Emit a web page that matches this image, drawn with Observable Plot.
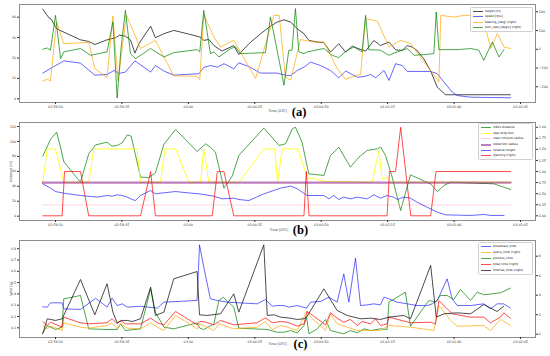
<!DOCTYPE html>
<html><head><meta charset="utf-8">
<script src="https://cdn.jsdelivr.net/npm/d3@7"></script>
<script src="https://cdn.jsdelivr.net/npm/@observablehq/plot@0.6"></script>
<style>
body{margin:0;background:#fff;}
#wrap{position:relative;width:550px;height:356px;overflow:hidden;font-family:"DejaVu Sans",sans-serif;background:#fff;}
.legend{position:absolute;box-sizing:border-box;background:rgba(255,255,255,0.85);border:0.6px solid #d0d0d0;border-radius:1.5px;}
.row{display:flex;align-items:center;white-space:nowrap;}
.sw{display:inline-block;width:10px;height:0;margin-left:2px;margin-right:2px;}
.lbl{font-size:3px;line-height:1;color:#111;}
</style></head><body><div id="wrap"></div>
<script>
// ---------- x axis (seconds after 02:59:10 UTC) ----------
const xTicks = [0,25,50,75,100,125,150,175];
const xTickLabels = ["02:59:10","02:59:35","03:00","03:00:25","03:00:50","03:01:15","03:01:40","03:02:05"];

// ---------- panel (a) ----------
const heightM = [[-4.8,44],[-2.5,39.7],[-1.6,39],[0.4,34.3],[9.4,28.9],[12.5,28.1],[14.8,26.6],[19.4,28.9],[22.6,29.9],[24.1,31.2],[26.3,30.7],[28.2,28.9],[29.9,22.4],[31.4,27],[35.8,35.6],[37.6,29.9],[40.8,31.9],[44.5,33.5],[49.6,31.9],[54.6,30.2],[55.8,28.6],[57.7,29.1],[59.6,26.1],[62.7,23.4],[67.1,26.1],[69,21.7],[72.8,27],[77.2,31.9],[80.9,35.5],[83.4,37.6],[86,38.7],[88.5,37.6],[91,34.3],[93.5,31.9],[95.4,28.6],[98.5,27.8],[101,27.5],[103.5,22.9],[106.6,27],[109.2,22.9],[111.7,25.8],[114.2,24.5],[116.7,23.4],[119.8,28.6],[122.3,26.1],[125.5,27.8],[128,24],[130.5,23.7],[132.4,26.1],[134.3,25.3],[136.1,23.7],[138.6,19.6],[141.1,13.9],[143.7,5.7],[146.8,2],[171.2,2]];
const speedMS = [[-4.8,12.6],[3.1,18.6],[9.4,17.5],[14.8,11.6],[19.4,11.9],[22,13.9],[23.8,12.4],[26.3,13.1],[29.9,18.6],[35.8,13.1],[37.6,16.3],[40.8,13.6],[44.5,11.6],[54,12.3],[55.8,15.4],[58.3,16.3],[60.9,15.5],[63.4,17.2],[67.1,14.7],[69,17.6],[72.8,15.8],[77.2,12.6],[83.4,12.6],[87.2,11.4],[88.5,11.4],[91,13.9],[93.5,15.5],[96,18],[99.7,16.3],[103.5,13.9],[106.6,10.3],[109.2,13.6],[111.7,11.9],[113.6,10.6],[116.1,10.9],[118.6,11.9],[120.5,10.3],[123.6,13.9],[125.5,9],[128,17.2],[130.5,16.3],[132.4,13.4],[141.1,13.4],[143.7,12.3],[146.2,8.2],[149.3,3.3],[151.2,1.6],[156.3,0.8],[171.3,0.5]];
const bearingDeg = [[-4.8,-169],[-3.1,-160],[-1.9,-169],[0.4,146],[3.1,30],[12.5,37],[14.8,-103],[19.4,-151],[21.6,178],[23.5,-169],[26.7,181],[32,4],[37.6,48],[44.5,-142],[53.3,-144],[54.3,-162],[55.8,185],[59.6,66],[62.1,12],[67.1,48],[75.3,-156],[82.2,181],[84.2,181],[86.5,-148],[88.5,-165],[92.2,52],[97.2,39],[101,39],[106,-103],[109.2,-160],[114.8,-133],[116.7,164],[121.1,151],[125.5,12],[129.9,48],[133.7,30],[138.7,-68],[144.3,-174],[145,181],[150,172],[153.8,181],[160.7,181],[163.8,4],[166.3,84],[168.8,12],[171.3,4]];
const turnRate = [[-4.8,0],[-3.1,7],[-1.9,-5],[0,181],[1.9,-50],[3.1,-14],[9.4,4],[13.2,-32],[19.4,-14],[21.6,146],[23.2,-260],[24.7,12],[26.3,208],[28.2,-23],[30.1,-50],[35.8,4],[40.8,-41],[44.5,-18],[53.3,-2],[54.3,-14],[55.8,208],[58.3,-23],[59.6,-14],[61.5,-41],[65.9,4],[67.8,12],[69.6,-23],[79,-18],[80.9,172],[82.5,60],[86,-192],[87.8,-5],[89,-5],[90.3,217],[91.6,-14],[93.5,-23],[94.7,-14],[101,4],[104.1,-32],[106.6,-44],[109.8,-5],[112.3,12],[115.4,-14],[116.7,181],[117.9,-2],[122.3,-5],[125.5,-32],[128.6,-14],[132.4,4],[134.9,-32],[139.9,-27],[142.4,-23],[143.3,199],[144.3,-2],[151.2,-2],[156.3,4],[159.3,-5],[161.2,-59],[164.4,39],[166.9,-41],[168.8,-2]];
const aLeftTicks = [0,10,20,30,40];
const aRightTicks = [-200,-100,0,100,200];

// ---------- panel (b) ----------
const uavDistance = [[-4.8,80.3],[-1.9,102.6],[0.4,112.4],[1.9,92.3],[3.1,73.1],[9.4,45.5],[12.5,83.4],[15.1,95.4],[19.4,99],[21.3,93.7],[23.2,94.6],[25.1,98.1],[27,108.8],[28.5,107],[32,52.2],[35.1,51.8],[37.6,58],[40.8,96.3],[45.2,116],[53.3,86.5],[56.5,96.8],[58.3,92.3],[60.2,85.6],[63.4,37.5],[66.5,53.6],[69,81.2],[78.4,117.8],[80.9,108],[84.1,94.6],[86.6,96.8],[89.1,116.8],[90.3,119.1],[92.8,99],[95.3,56.7],[101,54.5],[103.5,81.2],[106.6,92.4],[111,65.6],[114.2,79],[117.3,87.9],[121.2,90.2],[122.4,92.4],[124.2,81.2],[126.7,52.2],[129.9,7.6],[133.6,55.3],[141.2,43.2],[143.7,33],[146.2,41],[148.7,45.5],[165,43.3],[171.3,35.7]];
const tearDropDist = [[-4.8,45.5],[-3.1,90],[0,90],[3.1,45.5],[12.5,45.5],[14.4,90],[30.7,90],[32,45.5],[39.5,45.5],[41.2,90],[45.2,90],[50.2,45.5],[54.6,45.5],[55.8,90],[57.7,45.5],[69,45.5],[78.4,90],[82.5,90],[83.6,45.5],[85.3,90],[91.2,90],[95,50],[96.6,51.2],[101,46.4],[119.2,45.5],[121.7,87.8],[122.9,50],[124.8,52.2],[126.1,45.5],[171.3,45.5]];
const nearCollision = [[-4.8,15],[171.3,15]];
const detectionRadius = [[-4.8,45],[171.3,45]];
const relativeHeight = [[-4.8,43.3],[-1.9,37.5],[0,33],[3.1,30.8],[9.4,27.7],[15.7,25.5],[19.4,27.7],[21.3,26.8],[23.2,28.6],[25.1,27.7],[27,25.5],[28.9,22.3],[30.1,21],[32,27.7],[35.8,34.4],[37.6,29.9],[40.8,31.3],[45.2,33],[49.6,31.3],[54,29.9],[56.5,28.6],[59.6,26.8],[62.7,23.2],[67.1,24.1],[69,22.3],[72.8,21],[78.4,29.9],[84.7,37.5],[88.5,40.2],[91,36.6],[94.7,27.7],[101,27.7],[102.9,23.2],[104.7,27.7],[106.6,22.3],[108.5,25.5],[111,23.2],[113.6,25.5],[117.3,23.2],[119.8,28.6],[122.3,24.1],[124.8,27.7],[127.3,25.5],[128.6,22.3],[131.1,25.5],[133.6,24.1],[136.1,18.7],[139.9,12],[143.7,5.4],[146.8,1.8],[156.2,1],[161.3,2.3],[163.8,1],[168.8,1]];
const warning = [[-4.8,0],[2.5,0],[3.4,1],[9.4,1],[12.5,0],[32,0],[35.8,1],[37.6,0],[59,0],[60.9,1],[63.4,1],[67.1,0],[93.5,0],[94.4,1],[95.4,0],[124.8,0],[125.7,1],[128,1],[129.9,2],[133.7,0],[141.2,0],[143.2,1],[171.3,1]];
const bLeftTicks = [0,20,40,60,80,100,120];
const bRightTicks = [0,0.25,0.5,0.75,1,1.25,1.5,1.75,2];

// ---------- panel (c) ----------
const broadcastTime = [[-4.8,0.285],[-3.1,0.283],[-1.9,0.321],[2.5,0.321],[3.1,0.268],[9.4,0.262],[15.1,0.362],[19.4,0.283],[21.3,0.362],[23.2,0.297],[25.1,0.312],[27,0.283],[32,0.291],[38.3,0.274],[40.8,0.327],[53.3,0.342],[54.2,0.834],[55.8,0.636],[58.3,0.356],[60.9,0.342],[64.6,0.327],[75.9,0.312],[79,0.35],[81.6,0.291],[83.4,0.297],[86,0.297],[87.8,0.283],[91,0.297],[94.5,0.274],[96,0.327],[99.7,0.333],[102.9,0.371],[106,0.327],[108.5,0.577],[110.4,0.327],[112.9,0.716],[114.8,0.297],[117.3,0.303],[119.8,0.312],[122.3,0.303],[123.6,0.371],[125.5,0.356],[128.6,0.327],[132.4,0.312],[136.1,0.297],[139.9,0.297],[141.8,0.312],[143.7,0.342],[147.4,0.533],[149.3,0.356],[151.2,0.297],[156.2,0.297],[161.2,0.312],[163.7,0.268],[166.2,0.312],[168.7,0.312],[171.2,0.274]];
const processTime = [[-4.8,0.055],[-3.1,0.12],[0,0.085],[2.5,0.106],[3.1,0.356],[9.4,0.386],[12.5,0.091],[19.4,0.085],[23.2,0.085],[24.5,0.135],[26.3,0.076],[32,0.091],[35.8,0.445],[37.6,0.238],[40.8,0.106],[44.5,0.091],[53.3,0.144],[54.3,0.097],[55.8,0.085],[59.6,0.135],[61.5,0.342],[63.1,0.371],[67.1,0.283],[69,0.097],[79.7,0.085],[83.4,0.061],[86,0.061],[88.5,0.076],[91,0.055],[93.5,0.12],[94.5,0.194],[95.4,0.047],[98.5,0.091],[101.6,0.173],[103.5,0.076],[106,0.061],[108.5,0.047],[111,0.076],[113.6,0.055],[116.1,0.091],[118.6,0.076],[122.3,0.091],[124.8,0.085],[125.5,0.327],[131.7,0.415],[133.6,0.114],[140.5,0.342],[143,0.327],[144.9,0.386],[147.4,0.386],[149.9,0.35],[152.4,0.439],[156.2,0.342],[158.7,0.415],[161.2,0.392],[164.4,0.4],[167.5,0.41],[171.2,0.451]];
const queryTime = [[-4.8,0.89],[-3.1,0.55],[-1.9,0.82],[2.5,0.38],[3.1,1.17],[9.4,0.72],[12.5,0.62],[19.4,0.89],[21.3,1.17],[23.2,0.55],[24.5,1.06],[27,0.62],[32,0.55],[35.8,1.17],[38.3,0.72],[40.8,0.38],[45.2,1.92],[53.3,0.55],[54.3,1.06],[55.8,0.89],[59.6,0.38],[61.5,1.06],[67.1,0.55],[75.9,0.72],[79,1.3],[81.6,0.48],[84.7,0.89],[87.2,0.72],[91,0.38],[94.5,2.33],[96,1.75],[101.6,0.38],[103.5,2.09],[106,1.06],[113.6,0.38],[122.3,0.38],[125.5,0.89],[133.6,0.72],[142.4,0.38],[144.3,2.94],[148.7,1.41],[151.2,0.82],[161.2,0.89],[163.7,0.38],[167.5,1.51],[171.2,0.89]];
const totalTime = [[-4.8,1.3],[-3.1,0.89],[-1.9,1.23],[2.5,0.72],[3.1,1.75],[9.4,1.17],[12.5,1.06],[19.4,1.17],[21.3,1.58],[23.2,1.06],[24.5,1.41],[26.3,1.06],[32,1.06],[35.8,1.64],[38.3,1.17],[40.8,0.96],[45.2,2.33],[53.3,0.96],[54.3,1.3],[55.8,1.3],[59.6,0.96],[62.1,1.41],[67.1,0.96],[75.9,1.17],[79,1.68],[81.6,1.17],[84.7,1.3],[87.2,1.23],[91,0.82],[93.5,1.06],[94.7,2.33],[96,2.09],[101.6,0.96],[103.5,2.19],[106,1.64],[108.5,1.23],[111,1.51],[113.6,0.89],[115.4,1.3],[118.6,1.06],[120.5,1.58],[122.3,0.89],[124.8,1.06],[125.5,1.75],[133.6,1.17],[141.2,1.23],[143,1.06],[144.3,3.45],[147.4,2.6],[149.3,2.09],[156.2,1.75],[161.2,1.75],[163.7,1.17],[167.5,1.75],[168.7,2.19],[171.2,1.64]];
const intervalTime = [[-4.8,0.04],[-3.1,1.58],[0,1.41],[2.5,1.58],[9.4,5.61],[14.8,1.99],[19.4,5.17],[21.6,2.26],[23.2,1.17],[25.1,1.41],[27,1.41],[28.9,1.3],[32,1.58],[35.8,4.82],[37.6,1.92],[40.8,2.26],[44.5,5.68],[53.3,6.43],[54.2,1.99],[57.1,1.92],[62.1,2.09],[67.1,4.14],[69,2.26],[78.4,9.17],[79.7,1.92],[82.2,1.99],[84.7,1.75],[88.5,1.64],[91,1.51],[93.5,1.58],[94.5,1.75],[101,4.65],[106,2.43],[109.8,1.92],[114.8,1.58],[118.6,1.64],[122.3,1.51],[125.5,1.75],[131.1,1.92],[133.6,1.58],[141.2,7.05],[143.3,1.75],[146.2,2.09],[151.2,2.19],[156.2,2.09],[161.2,3.04],[166.2,2.33],[168.7,2.87]];
const cLeftTicks = [0.1,0.2,0.3,0.4,0.5,0.6,0.7,0.8];
const cRightTicks = [0,2,4,6,8];

// ---------- drawing ----------
const wrap = document.getElementById("wrap");
const xDomain = [-13.55, 180.65];
const xLabelOf = new Map(xTicks.map((t,i)=>[t, xTickLabels[i]]));
const FS = 3.3;
const baseStyle = {fontFamily:"DejaVu Sans, sans-serif", fontSize:FS+"px", color:"#333", background:"transparent", overflow:"visible"};

const ln = (data, color, w=1, op=0.7) =>
  Plot.line(data, {x:d=>d[0], y:d=>d[1], stroke:color, strokeWidth:w, strokeOpacity:op});

function place(svg, top){
  svg.style.position="absolute"; svg.style.left="0px"; svg.style.top=top+"px";
  wrap.appendChild(svg);
}

function panel(cfg){
  const common = {width:550, height:cfg.height, marginTop:cfg.mt, marginBottom:cfg.mb, marginLeft:19, marginRight:15, style:baseStyle};
  const extra = [];
  if (cfg.ylabel) extra.push(Plot.text([cfg.ylabel], {frameAnchor:"left", dx:-9, rotate:-90, textAnchor:"middle", lineAnchor:"middle", text:d=>d, fontSize:3.4, fill:"#333"}));
  extra.push(Plot.text(["Time [UTC]"], {frameAnchor:"bottom", dx:cfg.tdx, dy:cfg.tdy, textAnchor:"middle", lineAnchor:"middle", text:d=>d, fontSize:3.4, fill:"#333"}));
  extra.push(Plot.text([cfg.letter], {frameAnchor:"bottom", dx:cfg.ldx, dy:cfg.ldy, textAnchor:"middle", lineAnchor:"middle", text:d=>d, fontSize:12.5, fontWeight:"bold", fontFamily:"Liberation Serif, serif", fill:"#000"}));
  const left = Plot.plot({...common,
    x:{domain:xDomain}, y:{domain:cfg.yL},
    marks:[
      ...cfg.left,
      Plot.frame({stroke:"#8c8c8c", strokeWidth:1}),
      Plot.axisX({ticks:xTicks, tickFormat:d=>xLabelOf.get(d), tickSize:2, tickPadding:1.6, label:null, fontSize:FS}),
      Plot.axisY({anchor:"left", ticks:cfg.yLTicks, tickFormat:cfg.fmtL, tickSize:2, tickPadding:1.3, label:null, fontSize:FS}),
      ...extra
    ]});
  const right = Plot.plot({...common,
    x:{domain:xDomain, axis:null}, y:{domain:cfg.yR},
    marks:[
      ...cfg.right,
      Plot.axisY({anchor:"right", ticks:cfg.yRTicks, tickFormat:cfg.fmtR, tickSize:2, tickPadding:1.3, label:null, fontSize:FS})
    ]});
  place(left, cfg.top); place(right, cfg.top);
}

function legend(items, box){
  const div=document.createElement("div");
  div.className="legend";
  Object.assign(div.style,{left:box.left+"px",top:box.top+"px",width:box.width+"px",paddingTop:box.pad+"px",paddingBottom:box.pad+"px"});
  for (const [label,color,w,op] of items){
    const row=document.createElement("div"); row.className="row"; row.style.height=box.rowH+"px";
    const sw=document.createElement("span"); sw.className="sw"; sw.style.borderTop=w+"px solid "+color; sw.style.opacity=op;
    const tx=document.createElement("span"); tx.className="lbl"; tx.textContent=label;
    row.appendChild(sw); row.appendChild(tx); div.appendChild(row);
  }
  wrap.appendChild(div);
}

// colours
const cBlack="#000", cBlue="blue", cOrange="orange", cGreen="green", cRed="red", cYellow="yellow", cPink="pink", cPurple="purple";

// (a)
panel({top:0, height:119, mt:4, mb:17, yL:[-1.8,46.2], yR:[-284,239],
  yLTicks:aLeftTicks, yRTicks:aRightTicks, fmtL:d3.format("d"), fmtR:d3.format("d"),
  left:[ln(heightM,cBlack,1,0.7), ln(speedMS,cBlue,1,0.6)],
  right:[ln(bearingDeg,cOrange,1,0.7), ln(turnRate,cGreen,1,0.7)],
  letter:"(a)", tdx:0, tdy:8.7, ldx:21.5, ldy:9.3});
// (b)
panel({top:119, height:118, mt:3, mb:17, yL:[-5.75,125.35], yR:[-0.106,2.107],
  yLTicks:bLeftTicks, yRTicks:bRightTicks, fmtL:d3.format("d"), fmtR:d3.format(".2f"),
  ylabel:"distance [m]",
  left:[ln(uavDistance,cGreen,1,0.7), ln(tearDropDist,cYellow,1,0.8), ln(nearCollision,cPink,0.8,0.8), ln(detectionRadius,cPurple,2.2,0.5), ln(relativeHeight,cBlue,1,0.6)],
  right:[ln(warning,cRed,1,0.7)],
  letter:"(b)", tdx:1.5, tdy:9.3, ldx:23, ldy:9.5});
// (c)
panel({top:237, height:119, mt:3, mb:19, yL:[0.0142,0.8726], yR:[-0.34,9.61],
  yLTicks:cLeftTicks, yRTicks:cRightTicks, fmtL:d3.format(".1f"), fmtR:d3.format("d"),
  ylabel:"time [s]",
  left:[ln(broadcastTime,cBlue,1,0.6), ln(processTime,cGreen,1,0.7)],
  right:[ln(queryTime,cOrange,1,0.7), ln(totalTime,cRed,1,0.7), ln(intervalTime,cBlack,1,0.7)],
  letter:"(c)", tdx:0, tdy:6.5, ldx:23, ldy:6.5});

// legends
const aLabels = ["height [m]","speed [m/s]","bearing_[deg] (right)","turn_rate_[deg/s] (right)"];
legend([[aLabels[0],cBlack,1,0.7],[aLabels[1],cBlue,1,0.6],[aLabels[2],cOrange,1,0.7],[aLabels[3],cGreen,1,0.7]],
  {left:470, top:6.7, width:63, pad:0.8, rowH:5.43});
const bLabels = ["UAVs distance","tear drop dist","near-collision radius","detection radius","relative height","warning (right)"];
legend([[bLabels[0],cGreen,1,0.7],[bLabels[1],cYellow,1,0.8],[bLabels[2],cPink,0.8,0.8],[bLabels[3],cPurple,2,0.5],[bLabels[4],cBlue,1,0.6],[bLabels[5],cRed,1,0.7]],
  {left:478.3, top:123.3, width:54.7, pad:0.5, rowH:5.67});
const cLabels = ["broadcast_time","query_time (right)","process_time","total_time (right)","interval_time (right)"];
legend([[cLabels[0],cBlue,1,0.6],[cLabels[1],cOrange,1,0.7],[cLabels[2],cGreen,1,0.7],[cLabels[3],cRed,1,0.7],[cLabels[4],cBlack,1,0.7]],
  {left:478, top:241.7, width:55, pad:0.3, rowH:6.08});
</script></body></html>
